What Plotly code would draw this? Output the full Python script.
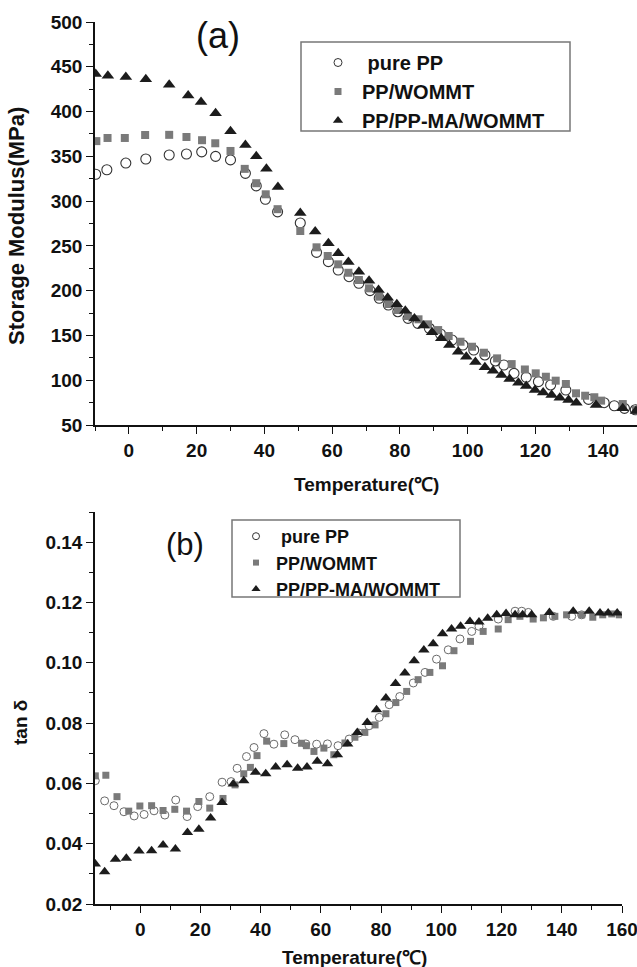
import plotly.graph_objects as go

# ---------------- data: panel (a) storage modulus ----------------
a_pp_x = [-9.8, -6.5, -0.9, 5, 11.9, 17, 21.5, 25.6, 30, 34.4, 37.6, 40.3, 43.9, 50.6, 55.4, 58.9, 61.8, 65,
          67.9, 71.2, 73.9, 76.6, 79.4, 82.4, 85.3, 88.7, 92, 95.4, 98.6, 101.8, 105.1, 108.2, 110.7, 113.7,
          117.3, 120.9, 124.5, 129, 135.7, 140.3, 143.3, 146.3, 149.5]
a_pp_y = [330, 335, 342.5, 347, 351.5, 352.6, 355, 350, 346, 331, 317, 302, 288, 275.6, 242.8, 232.4, 223, 215.6,
          208.2, 200, 191.5, 184, 176.5, 169.1, 163.5, 158, 151.6, 144.9, 139.3, 133.7, 128.2, 121.5, 117, 107.7,
          103.3, 98.4, 94.7, 89, 78.6, 74.9, 71.5, 68.6, 67]

a_wo_x = [-9.6, -6.3, -1.2, 4.8, 11.9, 17, 21.6, 25.5, 30, 34.2, 37.6, 40.4, 43.9, 50.6, 55.4, 58.7, 61.8, 64.8,
          67.9, 70.9, 73.9, 76.6, 79.4, 82.4, 85.5, 88.3, 91.3, 94.4, 97.9, 101.3, 104.8, 108.7, 113, 116.9,
          120.1, 123.1, 126, 129, 132, 134.7, 137.4, 139.4, 145.8, 149.7]
a_wo_y = [367, 370.5, 370.5, 373.8, 374, 371.6, 368, 364.6, 356, 336, 320, 307.6, 291, 266.6, 248.4, 238.7, 229.4,
          220, 211.9, 202.6, 193.3, 185.1, 178.4, 171.7, 168, 162.4, 156, 149.4, 143, 137.4, 130.7, 124.4, 118,
          112, 107.7, 103.9, 99.5, 95.8, 85.4, 82.7, 81, 77.2, 73.4, 66.7]

a_ma_x = [-9.8, -6.2, -0.9, 5, 11.9, 17.5, 21.3, 25.6, 30, 34.4, 37.6, 40.6, 44, 50.6, 55, 58.9, 61.8, 64.8, 67.9,
          70.9, 73.7, 76.4, 79.1, 81.6, 84.3, 87, 89.5, 92.2, 94.6, 97.2, 99.6, 102.3, 105.1, 107.5, 110, 112.4,
          115, 117.3, 119.9, 122.3, 124.8, 127.2, 129.8, 132.1, 137.9, 145.8, 149.7]
a_ma_y = [442, 440, 438.6, 436, 430, 418, 410.6, 398, 378, 362.6, 350, 336, 315.7, 286.7, 266, 252.9, 241.7, 232,
          221, 211, 200.7, 192, 184.8, 177.6, 169, 161, 153.5, 146.8, 139.3, 131.8, 126.3, 120.3, 114.4, 110.6,
          105.8, 101.4, 97.2, 93.5, 89, 86.4, 83.5, 80.5, 77.9, 74.9, 72.3, 68.6, 65.6]

# ---------------- data: panel (b) tan delta ----------------
b_pp_x = [-14.9, -11.8, -8.7, -5.4, -2, 1.3, 4.6, 8.2, 11.8, 15.6, 19.1, 23.1, 27.2, 30.2, 32.2, 35.3, 37.8, 41.1,
          44.4, 48, 51.4, 55, 58.6, 62.2, 65.7, 69.4, 72.6, 76, 79.4, 82.7, 86.2, 90.7, 94.6, 98.4, 102.3, 106.2,
          110.1, 112.5, 118.9, 124.5, 126.7, 128.9, 137.2, 143.3, 146.6]
b_pp_y = [0.0609, 0.0542, 0.0526, 0.0506, 0.0492, 0.0497, 0.0509, 0.0495, 0.0545, 0.049, 0.0523, 0.0556, 0.0604,
          0.0606, 0.065, 0.0689, 0.0719, 0.0765, 0.073, 0.0761, 0.0745, 0.0731, 0.073, 0.0731, 0.0725, 0.0747,
          0.0767, 0.0791, 0.0819, 0.0861, 0.0888, 0.0933, 0.0968, 0.1012, 0.1043, 0.1079, 0.1104, 0.1121, 0.1145,
          0.1171, 0.1171, 0.1167, 0.1154, 0.1154, 0.1159]

b_wo_x = [-14.9, -11.4, -7.7, -3.8, -0.1, 3.8, 7.6, 11.5, 15.4, 19.5, 23.1, 27.5, 31.5, 34.4, 36.6, 38.8, 42, 47.7,
          53.6, 55.2, 57.7, 61, 64.3, 68, 71.3, 74.6, 78, 81.6, 84.9, 88.5, 92.3, 96.2, 100.4, 104.2, 109.7, 113.9,
          118.9, 122.2, 126.1, 130.5, 133.9, 137.7, 141.6, 146.6, 150.3, 153.6, 156.6, 159.1]
b_wo_y = [0.0625, 0.0627, 0.0556, 0.0508, 0.0525, 0.0526, 0.051, 0.0514, 0.0508, 0.054, 0.0518, 0.055, 0.0595,
          0.0632, 0.0653, 0.0692, 0.074, 0.0732, 0.0733, 0.0725, 0.0706, 0.0717, 0.0695, 0.0734, 0.0753, 0.0769,
          0.0794, 0.0831, 0.0868, 0.0905, 0.0944, 0.0968, 0.099, 0.104, 0.1071, 0.1104, 0.1112, 0.1143, 0.1154,
          0.1145, 0.1149, 0.1154, 0.1159, 0.1159, 0.1151, 0.1159, 0.1162, 0.1159]

b_ma_x = [-14.9, -11.8, -8.2, -4.6, -0.4, 3.8, 7.6, 11.7, 15.7, 19.5, 23.4, 27.2, 30.9, 34.4, 38.3, 41.7, 45, 48.8,
          52.3, 55.4, 58.8, 62.2, 65.5, 68.9, 72.1, 75.4, 78.5, 81.6, 84.8, 87.9, 91, 94.2, 97.3, 100.4, 103.4,
          106.4, 109.5, 112.5, 115.4, 118.4, 121.5, 124.5, 127, 130, 135.9, 143.8, 149.1, 152.7, 155.4, 158.4]
b_ma_y = [0.0333, 0.0307, 0.0348, 0.0352, 0.0376, 0.0377, 0.0396, 0.0382, 0.0437, 0.0448, 0.0485, 0.0537, 0.0598,
          0.0609, 0.0637, 0.0632, 0.0654, 0.0662, 0.065, 0.0654, 0.0673, 0.0665, 0.0695, 0.0731, 0.0769, 0.0802,
          0.0844, 0.0883, 0.0931, 0.0966, 0.1007, 0.1042, 0.1063, 0.1096, 0.1112, 0.1121, 0.1137, 0.1135, 0.1148,
          0.1159, 0.1163, 0.1159, 0.1159, 0.1159, 0.1167, 0.1171, 0.1171, 0.1165, 0.1165, 0.1165]

series_names = ["pure PP", "PP/WOMMT", "PP/PP-MA/WOMMT"]
legend_labels = ["\u00a0pure PP", "PP/WOMMT", "PP/PP-MA/WOMMT"]

FONT = "Liberation Sans, Arial, sans-serif"
W, H = 637, 967
GRAY = "#7a7a7a"
DARK = "#1c1c1c"

fig = go.Figure()

def styles(panel):
    if panel == "a":
        return [
            dict(symbol="circle-open", size=10, color="#333333", line=dict(width=1.1, color="#333333")),
            dict(symbol="square", size=8, color=GRAY),
            dict(symbol="triangle-up", size=11, color=DARK),
        ]
    return [
        dict(symbol="circle-open", size=8, color="#6a6a6a", line=dict(width=1, color="#6a6a6a")),
        dict(symbol="square", size=7, color=GRAY),
        dict(symbol="triangle-up", size=10, color=DARK),
    ]

def legend_styles(panel):
    s = 7 if panel == "a" else 6
    return [
        dict(symbol="circle-open", size=s + 1, color="#333333", line=dict(width=1, color="#333333")),
        dict(symbol="square", size=s, color=GRAY),
        dict(symbol="triangle-up", size=s + 2, color=DARK),
    ]

a_data = [(a_pp_x, a_pp_y), (a_wo_x, a_wo_y), (a_ma_x, a_ma_y)]
b_data = [(b_pp_x, b_pp_y), (b_wo_x, b_wo_y), (b_ma_x, b_ma_y)]

for (xs, ys), name, mk in zip(a_data, series_names, styles("a")):
    fig.add_trace(go.Scatter(x=xs, y=ys, mode="markers", name=name, marker=mk,
                             xaxis="x", yaxis="y", showlegend=False))
for (xs, ys), name, mk in zip(b_data, series_names, styles("b")):
    fig.add_trace(go.Scatter(x=xs, y=ys, mode="markers", name=name, marker=mk,
                             xaxis="x2", yaxis="y2", showlegend=False))

# legend entries (no data)
for lab, mk in zip(legend_labels, legend_styles("a")):
    fig.add_trace(go.Scatter(x=[None], y=[None], mode="markers", name=lab, marker=mk,
                             xaxis="x", yaxis="y", legend="legend"))
for lab, mk in zip(legend_labels, legend_styles("b")):
    fig.add_trace(go.Scatter(x=[None], y=[None], mode="markers", name=lab, marker=mk,
                             xaxis="x2", yaxis="y2", legend="legend2"))

def px_x(p):
    return p / W

def px_y(p):
    return 1 - p / H

axis_common = dict(
    showline=True, linecolor="#111111", linewidth=1.6, mirror=False,
    ticks="outside", ticklen=7, tickwidth=1.4, tickcolor="#111111",
    showgrid=False, zeroline=False, ticklabeloverflow="allow",
    tickfont=dict(family=FONT, size=19, color="#111111", weight="bold"),
)

fig.update_layout(
    width=W, height=H,
    margin=dict(l=0, r=0, t=0, b=0),
    paper_bgcolor="white", plot_bgcolor="white",
    xaxis=dict(domain=[px_x(95), 1.0], anchor="y", range=[-10, 150], dtick=20, tick0=0,
               minor=dict(ticks="outside", ticklen=4, tickwidth=1.2, dtick=10, tickcolor="#111111"),
               automargin=False, **axis_common),
    yaxis=dict(domain=[px_y(425), px_y(22)], anchor="x", range=[50, 500], dtick=50, tick0=0,
               minor=dict(ticks="outside", ticklen=4, tickwidth=1.2, dtick=25, tickcolor="#111111"),
               automargin=False, **axis_common),
    xaxis2=dict(domain=[px_x(95), px_x(622)], anchor="y2", range=[-15, 160], dtick=20, tick0=0,
                minor=dict(ticks="outside", ticklen=4, tickwidth=1.2, dtick=10, tickcolor="#111111"),
                automargin=False, **axis_common),
    yaxis2=dict(domain=[px_y(904), px_y(512)], anchor="x2", range=[0.02, 0.15], dtick=0.02, tick0=0,
                tickformat=".2f",
                minor=dict(ticks="outside", ticklen=4, tickwidth=1.2, dtick=0.01, tickcolor="#111111"),
                automargin=False, **axis_common),
    legend=dict(x=px_x(314), y=px_y(43), xanchor="left", yanchor="top",
                borderwidth=0, bgcolor="rgba(255,255,255,0)",
                font=dict(family=FONT, size=20, color="#111111", weight="bold"),
                itemwidth=38, tracegroupgap=0),
    legend2=dict(x=px_x(236), y=px_y(518), xanchor="left", yanchor="top",
                 borderwidth=0, bgcolor="rgba(255,255,255,0)",
                 font=dict(family=FONT, size=18, color="#111111", weight="bold"),
                 itemwidth=30, tracegroupgap=0),
)

# legend frames
fig.add_shape(type="rect", xref="paper", yref="paper",
              x0=px_x(301), x1=px_x(570), y0=px_y(131), y1=px_y(42),
              line=dict(color="#777777", width=1.5), fillcolor="rgba(0,0,0,0)", layer="above")
fig.add_shape(type="rect", xref="paper", yref="paper",
              x0=px_x(232), x1=px_x(460), y0=px_y(597), y1=px_y(520),
              line=dict(color="#777777", width=1.5), fillcolor="rgba(0,0,0,0)", layer="above")

ann = [
    dict(text="Storage Modulus(MPa)", x=px_x(17), y=px_y(226), textangle=-90, size=22, bold=True),
    dict(text="Temperature(\u2103)", x=px_x(366), y=px_y(484), textangle=0, size=19, bold=True),
    dict(text="tan \u03b4", x=px_x(20), y=px_y(723), textangle=-90, size=19, bold=True),
    dict(text="Temperature(\u2103)", x=px_x(354), y=px_y(957), textangle=0, size=19, bold=True),
    dict(text="(a)", x=px_x(218), y=px_y(35), textangle=0, size=36, bold=False),
    dict(text="(b)", x=px_x(185), y=px_y(544), textangle=0, size=31, bold=False),
]
for a in ann:
    fig.add_annotation(
        text=a["text"], x=a["x"], y=a["y"], xref="paper", yref="paper",
        xanchor="center", yanchor="middle", showarrow=False, textangle=a["textangle"],
        font=dict(family=FONT, size=a["size"], color="#111111",
                  weight="bold" if a["bold"] else "normal"),
    )

fig.write_html("out.html")
